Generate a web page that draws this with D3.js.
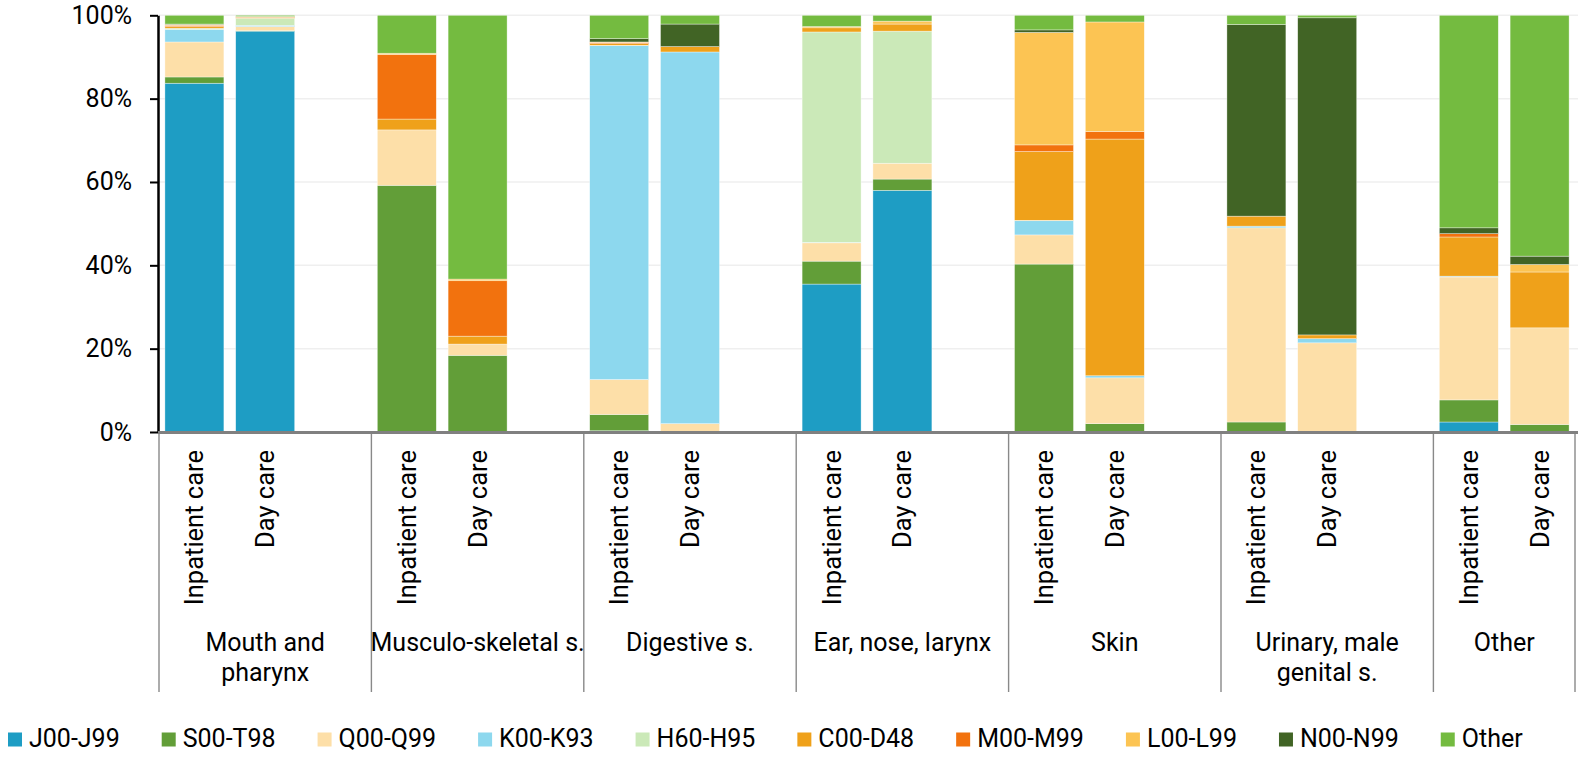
<!DOCTYPE html>
<html>
<head>
<meta charset="utf-8">
<script src="https://cdn.jsdelivr.net/npm/d3@7"></script>
<style>
  body { margin: 0; background: #fff; }
  text { font-family: Roboto, sans-serif; fill: #000; }
</style>
</head>
<body>
<svg id="chart" width="1578" height="757"></svg>
<script>
// groups of diagnoses, two bars each
const groups = ['Mouth and\npharynx', 'Musculo-skeletal s.', 'Digestive s.', 'Ear, nose, larynx', 'Skin', 'Urinary, male\ngenital s.', 'Other']
const careTypes = ['Inpatient care', 'Day care']
const codes = ['J00-J99', 'S00-T98', 'Q00-Q99', 'K00-K93', 'H60-H95', 'C00-D48', 'M00-M99', 'L00-L99', 'N00-N99', 'Other']
const yTicks = [0, 20, 40, 60, 80, 100]

// shares in %, bar order: group by group, inpatient then day care
const j00 = [83.7, 96.2, 0, 0, 0.3, 0, 35.5, 58.0, 0, 0, 0, 0, 2.4, 0]
const s00 = [1.5, 0.1, 59.2, 18.4, 3.9, 0, 5.5, 2.7, 40.3, 2.0, 2.4, 0, 5.3, 1.8]
const q00 = [8.4, 1.0, 13.3, 2.7, 8.4, 2.0, 4.4, 3.8, 7.0, 11.0, 46.6, 21.4, 29.5, 23.2]
const k00 = [3.0, 0.3, 0, 0, 80.1, 89.2, 0.1, 0, 3.4, 0.5, 0.4, 1.0, 0.2, 0]
const h60 = [0.3, 1.7, 0, 0, 0.1, 0, 50.5, 31.7, 0.1, 0, 0, 0, 0, 0]
const c00 = [0.4, 0.2, 2.6, 1.9, 0.4, 1.3, 1.0, 1.7, 16.5, 56.8, 2.4, 0.9, 9.4, 13.4]
const m00 = [0.3, 0.1, 15.5, 13.3, 0.3, 0, 0, 0, 1.6, 1.8, 0, 0, 0.8, 0]
const l00 = [0.2, 0.1, 0.3, 0.4, 0.1, 0, 0.3, 0.7, 27.0, 26.3, 0, 0, 0, 1.8]
const n00 = [0.1, 0, 0, 0, 0.8, 5.4, 0, 0, 0.6, 0, 46.0, 76.1, 1.4, 2.0]
const other = [2.1, 0.3, 9.1, 63.3, 5.6, 2.1, 2.7, 1.4, 3.5, 1.6, 2.2, 0.6, 51.0, 57.8]

const colors = ['#1e9dc4', '#629e38', '#fddfa8', '#8dd8ee', '#cbe9b8', '#efa11a', '#f2720e', '#fcc453', '#416425', '#74bb40']
const seriesValues = [j00, s00, q00, k00, h60, c00, m00, l00, n00, other]

const margin = { top: 15.3, right: 3, bottom: 325, left: 159 }
const width = 1578, height = 757
const svg = d3.select('#chart')

// slots: 3 per group (2 bars + gap), last group without gap
const slots = []
groups.forEach((g, gi) => {
    careTypes.forEach((c, ci) => slots.push(gi + '-' + ci))
    if (gi < groups.length - 1) slots.push(gi + '-gap')
})

const rows = []
groups.forEach((g, gi) => careTypes.forEach((c, ci) => {
    const row = { slot: gi + '-' + ci }
    codes.forEach((code, k) => { row[code] = seriesValues[k][gi * 2 + ci] })
    rows.push(row)
}))

const x = d3.scaleBand().domain(slots)
    .range([margin.left, width - margin.right])
    .paddingInner(0.167).paddingOuter(0.0835)
const y = d3.scaleLinear().domain([0, 100]).range([height - margin.bottom, margin.top])
const y0 = y(0)

// grid
svg.append('g').selectAll('line')
    .data(yTicks.slice(1))
    .enter().append('line')
    .attr('x1', margin.left).attr('x2', width)
    .attr('y1', d => y(d)).attr('y2', d => y(d))
    .style('stroke', '#efefef').style('stroke-width', 1.5)

const stacked = d3.stack().keys(codes)(rows)

svg.append('g').selectAll('g')
    .data(stacked)
    .enter().append('g')
    .style('fill', (d, i) => colors[i])
    .selectAll('rect')
    .data(d => d)
    .enter().append('rect')
    .attr('x', d => x(d.data.slot))
    .attr('width', x.bandwidth())
    .attr('y', d => y(d[1]))
    .attr('height', d => y(d[0]) - y(d[1]))
    .style('stroke', '#fff').style('stroke-width', 0.6).style('stroke-opacity', 0.6)

// y axis
const yAxis = d3.axisLeft(y).tickValues(yTicks).tickFormat(d => d + '%')
    .tickSize(8).tickSizeOuter(0).tickPadding(18)
const yG = svg.append('g').attr('transform', `translate(${margin.left - 1},0)`).call(yAxis)
yG.select('.domain').style('stroke', '#000').style('stroke-width', 2.5)
yG.selectAll('.tick line').style('stroke', '#000').style('stroke-width', 2)
yG.selectAll('.tick text').style('font-size', '25px').style('font-family', 'Roboto, sans-serif')

// x axis: care type labels
const careOf = s => s.endsWith('gap') ? '' : careTypes[+s.split('-')[1]]
const xAxis = d3.axisBottom(x).tickFormat(careOf).tickSize(0)
const xG = svg.append('g').attr('transform', `translate(0,${y0})`).call(xAxis)
xG.select('.domain').remove()
xG.selectAll('.tick text')
    .attr('transform', 'rotate(-90)')
    .attr('x', -18).attr('y', 0).attr('dy', '0.35em')
    .style('text-anchor', 'end')
    .style('font-size', '25.5px').style('font-family', 'Roboto, sans-serif')

// group separators
const step = x.step()
const sepX = groups.map((g, i) => margin.left + i * 3 * step).concat([width - margin.right])
svg.append('g').selectAll('line')
    .data(sepX)
    .enter().append('line')
    .attr('x1', d => d).attr('x2', d => d)
    .attr('y1', y0).attr('y2', 692)
    .style('stroke', '#898989').style('stroke-width', 1.4)

svg.append('line')
    .attr('x1', margin.left - 1).attr('x2', width)
    .attr('y1', y0 + 0.5).attr('y2', y0 + 0.5)
    .style('stroke', '#808080').style('stroke-width', 3)

// group labels
const groupText = svg.append('g').selectAll('text')
    .data(groups)
    .enter().append('text')
    .attr('x', (d, i) => {
        const a = sepX[i], b = sepX[i + 1]
        return (a + b) / 2
    })
    .attr('y', 651)
    .style('text-anchor', 'middle')
    .style('font-size', '25px')
groupText.selectAll('tspan')
    .data(d => d.split('\n'))
    .enter().append('tspan')
    .attr('x', function () { return d3.select(this.parentNode).attr('x') })
    .attr('dy', (d, i) => i === 0 ? 0 : 30)
    .text(d => d)

// legend
const legend = svg.append('g')
let lx = 8
codes.forEach((code, i) => {
    legend.append('rect')
        .attr('x', lx).attr('y', 732.5)
        .attr('width', 14).attr('height', 14)
        .style('fill', colors[i])
    const t = legend.append('text')
        .attr('x', lx + 21).attr('y', 746.5)
        .style('font-size', '25px')
        .text(code)
    lx += 21 + t.node().getComputedTextLength() + 42
})
</script>
</body>
</html>
